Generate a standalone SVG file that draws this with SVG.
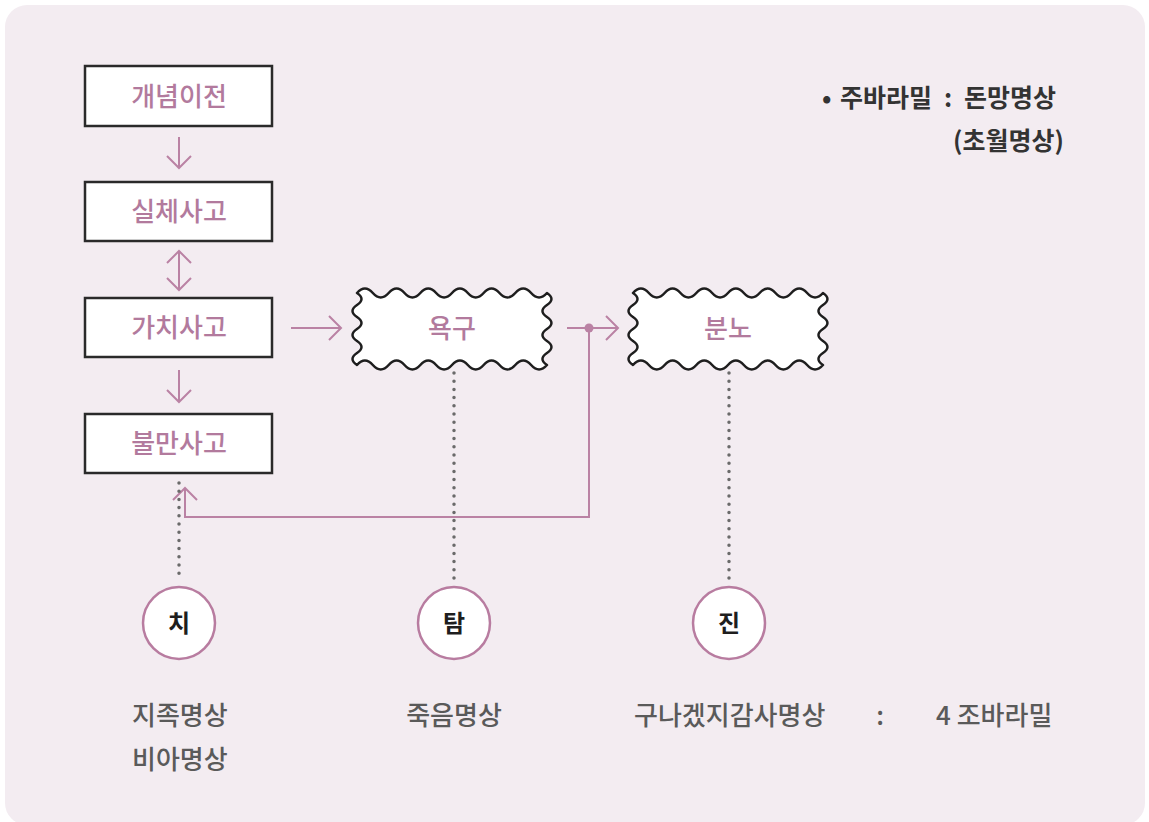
<svg xmlns="http://www.w3.org/2000/svg" width="1149" height="822" viewBox="0 0 1149 822">
<style>
.box{fill:#fff;stroke:#2a2a2a;stroke-width:2.5}
.lbl{font-family:"Noto Sans CJK KR","Noto Sans",sans-serif;font-size:26px;fill:#b27a9d;text-anchor:middle;font-weight:500}
.con{fill:none;stroke:#ba82a4;stroke-width:2}
.dot{fill:none;stroke:#6a6a6a;stroke-width:3.5;stroke-dasharray:0 8.2;stroke-linecap:round}
.circ{fill:#fff;stroke:#b87ca0;stroke-width:2.5}
.ch{font-family:"Noto Sans CJK KR","Noto Sans",sans-serif;font-size:24px;fill:#1e1e1e;text-anchor:middle;font-weight:700}
.gr{font-family:"Noto Sans CJK KR","Noto Sans",sans-serif;font-size:26px;fill:#5a5a5a;font-weight:500}
.dk{font-family:"Noto Sans CJK KR","Noto Sans",sans-serif;font-size:25px;fill:#333;font-weight:700}
.wave{fill:#fff;stroke:#1e1e1e;stroke-width:2.5;stroke-linejoin:round}
</style>
<defs>
<marker id="ah" viewBox="-14 -14 16 28" refX="0" refY="0" markerWidth="16" markerHeight="28" markerUnits="userSpaceOnUse" orient="auto-start-reverse">
<path d="M-12,-12 L0,0 L-12,12" fill="none" stroke="#ba82a4" stroke-width="2"/>
</marker>
<path id="wv" d="M0,0 q7.9,-9 15.83,0 t15.83,0 t15.83,0 t15.83,0 t15.83,0 t15.83,0 t15.83,0 t15.83,0 t15.83,0 t15.83,0 t15.83,0 t15.83,0 q9,6 0,12 t0,12 t0,12 t0,12 t0,12 t0,12 q-7.9,9 -15.83,0 t-15.83,0 t-15.83,0 t-15.83,0 t-15.83,0 t-15.83,0 t-15.83,0 t-15.83,0 t-15.83,0 t-15.83,0 t-15.83,0 t-15.83,0 q-9,-6 0,-12 t0,-12 t0,-12 t0,-12 t0,-12 t0,-12 Z"/>
</defs>
<rect x="0" y="0" width="1149" height="822" fill="#fff"/>
<rect x="5" y="5" width="1140" height="820" rx="22" fill="#f3ecf1"/>

<g id="connectors">
<line class="con" x1="179" y1="137" x2="179" y2="168" marker-end="url(#ah)"/>
<line class="con" x1="179" y1="251" x2="179" y2="290" marker-start="url(#ah)" marker-end="url(#ah)"/>
<line class="con" x1="179" y1="370" x2="179" y2="402" marker-end="url(#ah)"/>
<line class="con" x1="291" y1="328" x2="341" y2="328" marker-end="url(#ah)"/>
<line class="con" x1="567" y1="328" x2="618" y2="328" marker-end="url(#ah)"/>
<circle cx="589" cy="328" r="4.5" fill="#ba82a4"/>
<path class="con" d="M589,328 V517 H185 V488" marker-end="url(#ah)"/>
<line class="dot" x1="179" y1="483" x2="179" y2="578"/>
<line class="dot" x1="454" y1="373" x2="454" y2="578"/>
<line class="dot" x1="729" y1="373" x2="729" y2="578"/>
</g>

<g id="n1"><rect class="box" x="85" y="66" width="187" height="60"/><text class="lbl" x="179" y="106">개념이전</text></g>
<g id="n2"><rect class="box" x="85" y="182" width="187" height="59"/><text class="lbl" x="179" y="221">실체사고</text></g>
<g id="n3"><rect class="box" x="85" y="298" width="187" height="59"/><text class="lbl" x="179" y="337">가치사고</text></g>
<g id="n4"><rect class="box" x="85" y="414" width="187" height="59"/><text class="lbl" x="179" y="453">불만사고</text></g>

<g id="n5"><use href="#wv" class="wave" transform="translate(357,293)"/><text class="lbl" x="452" y="338">욕구</text></g>
<g id="n6"><use href="#wv" class="wave" transform="translate(633,293)"/><text class="lbl" x="728" y="338">분노</text></g>

<g id="c1"><circle class="circ" cx="179" cy="623" r="36"/><text class="ch" x="179" y="632">치</text></g>
<g id="c2"><circle class="circ" cx="454" cy="623" r="36"/><text class="ch" x="454" y="632">탐</text></g>
<g id="c3"><circle class="circ" cx="729" cy="623" r="36"/><text class="ch" x="729" y="632">진</text></g>

<g id="notes">
<text class="gr" x="132" y="725">지족명상</text>
<text class="gr" x="132" y="769">비아명상</text>
<text class="gr" x="454" y="725" text-anchor="middle">죽음명상</text>
<text class="gr" x="634" y="725">구나겠지감사명상</text>
<text class="gr" x="880" y="725" text-anchor="middle">:</text>
<text class="gr" x="936" y="725">4 조바라밀</text>
<text class="dk" x="822" y="107">•</text>
<text class="dk" x="840" y="107">주바라밀</text>
<text class="dk" x="948" y="107" text-anchor="middle">:</text>
<text class="dk" x="964" y="107">돈망명상</text>
<text class="dk" x="953" y="150">(초월명상)</text>
</g>
</svg>
